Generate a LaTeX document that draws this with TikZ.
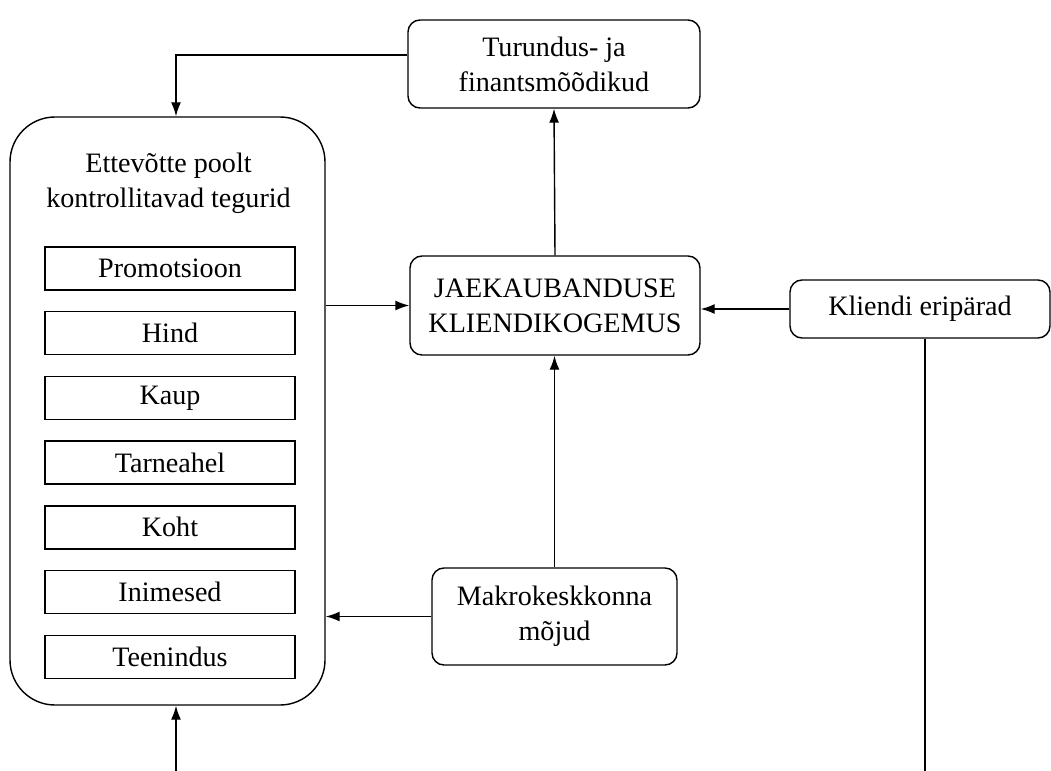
\documentclass[tikz,border=0pt]{standalone}
\usepackage{fontspec}
\setmainfont{Liberation Serif}
\usepackage{tikz}
\usetikzlibrary{positioning,arrows.meta}

\begin{document}
\begin{tikzpicture}[
    font=\fontsize{16}{20}\selectfont,
    block/.style={rectangle, draw, rounded corners=0.24cm, line width=0.8pt, align=center, inner sep=0pt},
    bigblock/.style={rectangle, draw, rounded corners=0.9cm, line width=0.8pt, inner sep=0pt},
    item/.style={rectangle, draw, line width=0.8pt, minimum width=5.0cm, minimum height=0.86cm, inner sep=0pt},
    arrow/.style={-{Latex[length=0.28cm,width=0.2cm]}, line width=0.8pt},
    plain/.style={line width=0.8pt},
]
    \useasboundingbox (0,0) rectangle (21.02,-15.42);

    % Top: metrics
    \node[block, minimum width=5.84cm, minimum height=1.76cm] (turundus) at (11.08,-1.28) {Turundus- ja\\finantsmõõdikud};

    % Left: controllable factors
    \node[bigblock, minimum width=6.3cm, minimum height=11.76cm] (tegurid) at (3.35,-8.22) {};
    \node[align=center] (tegurid-title) at (3.37,-3.66) {Ettevõtte poolt\\kontrollitavad tegurid};
    \node[item] (promo) at (3.4,-5.37) {Promotsioon};
    \node[item, below=0.406cm of promo] (hind) {Hind};
    \node[item, below=0.406cm of hind] (kaup) {Kaup};
    \node[item, below=0.406cm of kaup] (tarne) {Tarneahel};
    \node[item, below=0.406cm of tarne] (koht) {Koht};
    \node[item, below=0.406cm of koht] (inimesed) {Inimesed};
    \node[item, below=0.406cm of inimesed] (teenindus) {Teenindus};

    % Centre and right
    \node[block, minimum width=5.8cm, minimum height=1.98cm] (jaek) at (11.1,-6.11) {JAEKAUBANDUSE\\KLIENDIKOGEMUS};
    \node[block, minimum width=5.2cm, minimum height=1.16cm] (kliendi) at (18.4,-6.18) {Kliendi eripärad};
    \node[block, minimum width=4.9cm, minimum height=1.94cm] (makro) at (11.09,-12.33) {Makrokeskkonna\\mõjud};

    % Free ends at the picture border
    \coordinate (bottomin) at (3.52,-15.42);
    \coordinate (rightout) at (18.5,-15.42);

    % Arrows
    \draw[arrow] (turundus.west |- 0,-1.1) -| (tegurid.north -| bottomin);
    \draw[arrow] (jaek.north) -- (turundus.south);
    \draw[arrow] (tegurid.east |- jaek.west) -- (jaek.west);
    \draw[arrow] (kliendi.west) -- (kliendi.west -| jaek.east);
    \draw[arrow] (makro.north) -- (makro.north |- jaek.south);
    \draw[arrow] (makro.west) -- (makro.west -| tegurid.east);
    \draw[arrow] (bottomin) -- (bottomin |- tegurid.south);
    \draw[plain] (kliendi.south -| rightout) -- (rightout);
\end{tikzpicture}
\end{document}
